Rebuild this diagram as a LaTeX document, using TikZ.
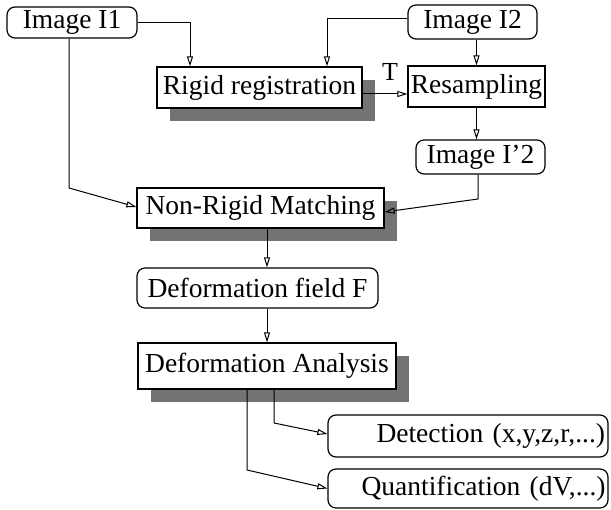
\documentclass[tikz,border=0pt]{standalone}
\usepackage{fontspec}
\setmainfont{Liberation Serif}
\usetikzlibrary{arrows.meta,shadows}
\begin{document}
\begin{tikzpicture}[x=1pt,y=-1pt,
  box/.style={draw,line width=1.2pt,fill=white,inner sep=0pt,font=\fontsize{27.5}{30}\selectfont},
  rbox/.style={box,rounded corners=8pt},
  shbox/.style={box,drop shadow={shadow xshift=13pt,shadow yshift=-13pt,fill=black!55,opacity=1}},
  arr/.style={line width=1pt,-{Triangle[open,length=10pt,width=6pt]}}]
\useasboundingbox (0,0) rectangle (611,510);

\node[rbox,minimum width=130pt,minimum height=31pt] (I1) at (72,22.5) {Image I1};
\node[rbox,minimum width=129pt,minimum height=34pt] (I2) at (472.5,22) {Image I2};
\node[shbox,minimum width=205pt,minimum height=41pt] (rigid) at (259.5,87.5) {Rigid registration};
\node[box,minimum width=137pt,minimum height=41pt] (resamp) at (476.5,86.5) {Resampling};
\node[rbox,minimum width=129pt,minimum height=34pt] (I2p) at (480.5,157) {Image I’2};
\node[shbox,minimum width=247pt,minimum height=40pt] (nonrigid) at (260.5,208) {Non-Rigid Matching};
\node[rbox,minimum width=241pt,minimum height=40pt] (deffield) at (257.5,288) {Deformation field F};
\node[shbox,minimum width=258pt,minimum height=46pt] (defan) at (267,366) {Deformation Analysis};
\node[rbox,minimum width=280pt,minimum height=42pt,text width=274pt,align=right] (det) at (468,436) {Detection (x,y,z,r,...)};
\node[rbox,minimum width=280pt,minimum height=39pt,text width=275pt,align=right] (quant) at (468,488.5) {Quantification (dV,...)};

\node[font=\fontsize{26}{28}\selectfont,inner sep=0pt] (T) at (390,72) {T};

\draw[arr] (I1.east) -| ([xshift=-69.5pt]rigid.north);
\draw[arr] ([yshift=3pt]I2.west) -| ([xshift=67.5pt]rigid.north);
\draw[arr] (resamp.north |- I2.south) -- (resamp.north);
\coordinate (t1) at ([yshift=-6.5pt]rigid.east);
\draw[arr] (t1) -- (t1 -| resamp.west);
\draw[arr] (resamp.south) -- (resamp.south |- I2p.north);

\coordinate (c1) at (478,199);
\draw[arr] (I2p.south -| c1) -- (c1) -- ([yshift=-4pt]nonrigid.east);
\coordinate (c2) at (69,188);
\draw[arr] (I1.south -| c2) -- (c2) -- ([yshift=1pt]nonrigid.west);

\draw[arr] (nonrigid.south -| defan.north) -- (deffield.north -| defan.north);
\draw[arr] (deffield.south -| defan.north) -- (defan.north);

\coordinate (c3) at (274,423);
\coordinate (c4) at (247,470);
\draw[arr] (defan.south -| c3) -- (c3) -- ([yshift=2pt]det.west);
\draw[arr] (defan.south -| c4) -- (c4) -- (quant.west);
\end{tikzpicture}
\end{document}
